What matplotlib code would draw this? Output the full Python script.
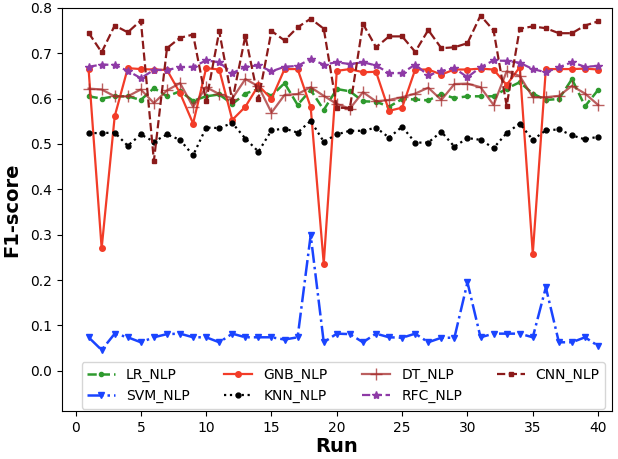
import numpy as np
import matplotlib
matplotlib.use("Agg")
import matplotlib.pyplot as plt

runs = list(range(1, 41))

lr_nlp = [0.605, 0.600, 0.605, 0.605, 0.597, 0.623, 0.605, 0.616, 0.595, 0.605,
          0.609, 0.588, 0.611, 0.621, 0.606, 0.634, 0.586, 0.619, 0.575, 0.621,
          0.616, 0.594, 0.593, 0.582, 0.599, 0.598, 0.596, 0.610, 0.601, 0.605,
          0.605, 0.605, 0.622, 0.636, 0.611, 0.597, 0.599, 0.643, 0.583, 0.619]
svm_nlp = [0.074, 0.046, 0.082, 0.074, 0.063, 0.074, 0.081, 0.082, 0.074, 0.074,
           0.063, 0.082, 0.074, 0.074, 0.074, 0.069, 0.074, 0.299, 0.063, 0.082,
           0.081, 0.063, 0.082, 0.074, 0.073, 0.082, 0.063, 0.073, 0.073, 0.195,
           0.074, 0.082, 0.082, 0.082, 0.074, 0.184, 0.063, 0.063, 0.074, 0.055]
gnb_nlp = [0.665, 0.270, 0.561, 0.667, 0.665, 0.664, 0.663, 0.612, 0.545, 0.667,
           0.664, 0.553, 0.582, 0.629, 0.599, 0.665, 0.665, 0.581, 0.236, 0.661,
           0.665, 0.658, 0.659, 0.573, 0.580, 0.664, 0.664, 0.653, 0.664, 0.664,
           0.666, 0.664, 0.630, 0.669, 0.258, 0.665, 0.665, 0.665, 0.666, 0.664]
knn_nlp = [0.524, 0.524, 0.525, 0.496, 0.521, 0.505, 0.521, 0.509, 0.475, 0.536,
           0.535, 0.546, 0.512, 0.483, 0.530, 0.534, 0.525, 0.551, 0.505, 0.521,
           0.529, 0.529, 0.536, 0.514, 0.538, 0.503, 0.503, 0.527, 0.494, 0.513,
           0.509, 0.491, 0.524, 0.545, 0.509, 0.530, 0.532, 0.519, 0.510, 0.516]
dt_nlp = [0.622, 0.620, 0.605, 0.605, 0.620, 0.590, 0.618, 0.634, 0.582, 0.625,
          0.610, 0.600, 0.643, 0.627, 0.569, 0.608, 0.610, 0.625, 0.606, 0.588,
          0.578, 0.614, 0.594, 0.597, 0.603, 0.611, 0.624, 0.597, 0.632, 0.633,
          0.625, 0.586, 0.660, 0.650, 0.603, 0.603, 0.606, 0.628, 0.611, 0.586]
rfc_nlp = [0.670, 0.675, 0.674, 0.661, 0.645, 0.663, 0.663, 0.669, 0.670, 0.684,
           0.680, 0.656, 0.670, 0.673, 0.660, 0.670, 0.672, 0.687, 0.675, 0.680,
           0.676, 0.680, 0.673, 0.656, 0.656, 0.675, 0.651, 0.661, 0.667, 0.647,
           0.669, 0.684, 0.683, 0.679, 0.665, 0.658, 0.669, 0.680, 0.670, 0.672]
cnn_nlp = [0.745, 0.702, 0.761, 0.746, 0.772, 0.463, 0.711, 0.734, 0.741, 0.594,
           0.748, 0.595, 0.738, 0.599, 0.749, 0.728, 0.757, 0.776, 0.754, 0.580,
           0.579, 0.765, 0.713, 0.737, 0.737, 0.703, 0.751, 0.711, 0.713, 0.722,
           0.783, 0.750, 0.584, 0.754, 0.759, 0.755, 0.744, 0.744, 0.761, 0.770]

fig = plt.figure(figsize=(6.18, 4.59), dpi=100)
ax = fig.add_axes([0.100, 0.105, 0.890, 0.878])

ax.plot(runs, lr_nlp, color="#2e9a2e", linestyle="--", marker=".", markersize=6,
        linewidth=1.8, label="LR_NLP")
ax.plot(runs, svm_nlp, color="#1a44ff", linestyle="-.", marker="v", markersize=4,
        linewidth=1.8, label="SVM_NLP")
ax.plot(runs, gnb_nlp, color="#f23c28", linestyle="-", marker="o", markersize=4,
        linewidth=1.6, label="GNB_NLP")
ax.plot(runs, knn_nlp, color="black", linestyle=":", marker="o", markersize=3.5,
        linewidth=1.6, label="KNN_NLP")
ax.plot(runs, dt_nlp, color="#a52a2a", alpha=0.75, linestyle="-", marker="+",
        markersize=9, linewidth=1.6, label="DT_NLP")
ax.plot(runs, rfc_nlp, color="#8e3aa6", linestyle="--", marker="*", markersize=6,
        linewidth=1.6, label="RFC_NLP")
ax.plot(runs, cnn_nlp, color="#8b1a1a", linestyle="--", marker="s", markersize=3,
        linewidth=1.6, label="CNN_NLP")

ax.set_xlim(-1.05, 41.05)
ax.set_ylim(-0.088, 0.8)
ax.set_xticks(range(0, 41, 5))
ax.set_yticks(np.arange(0, 0.81, 0.1))
ax.tick_params(labelsize=10)
ax.set_xlabel("Run", fontsize=14, fontweight="bold", labelpad=2)
ax.set_ylabel("F1-score", fontsize=14, fontweight="bold", labelpad=6)

ax.legend(ncol=4, loc="lower center", fontsize=10, columnspacing=2.5,
          bbox_to_anchor=(0.512, -0.012))

fig.savefig("out.png", dpi=100)
